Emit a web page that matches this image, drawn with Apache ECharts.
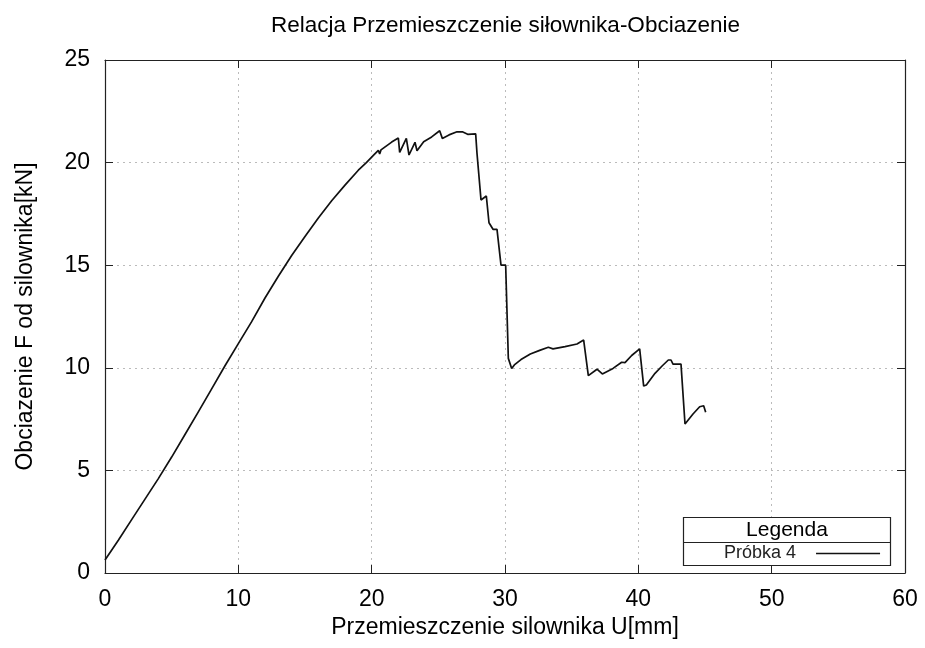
<!DOCTYPE html>
<html>
<head>
<meta charset="utf-8">
<script src="https://cdn.jsdelivr.net/npm/echarts@6/dist/echarts.min.js"></script>
<style>
  html, body { margin: 0; padding: 0; background: #fff; }
  #chart { width: 925px; height: 648px; }
</style>
</head>
<body>
<div id="chart"></div>
<script>
// przemieszczenie U [mm]
var dispU = [0, 1, 2, 3, 4, 5, 6, 7, 8, 9, 10, 11, 12, 13, 14, 15, 16, 17, 18, 19,
  19.6, 20.2, 20.5, 20.6, 20.7, 21.5, 22.0, 22.1, 22.6, 22.8, 23.25, 23.4, 23.9, 24.5,
  25.1, 25.3, 25.8, 26.4, 26.8, 27.2, 27.8, 27.9, 28.2, 28.6, 28.8, 29.1, 29.4, 29.7,
  29.85, 30.05, 30.25, 30.5, 30.7, 31.2, 31.9, 32.6, 33.25, 33.6, 34.5, 35.4, 35.9,
  36.25, 36.9, 37.3, 38.1, 38.75, 39.0, 39.5, 40.1, 40.2, 40.4, 40.6, 41.25, 41.8,
  42.25, 42.45, 42.6, 43.2, 43.5, 44.1, 44.6, 44.9, 45.05];
// obciazenie F [kN]
var loadF = [0.63, 1.6, 2.6, 3.6, 4.6, 5.65, 6.75, 7.85, 8.97, 10.1, 11.18, 12.25, 13.4, 14.46, 15.47, 16.4, 17.3, 18.14, 18.9, 19.63,
  20.0, 20.4, 20.6, 20.42, 20.62, 21.0, 21.2, 20.5, 21.18, 20.37, 20.99, 20.58, 21.02, 21.25,
  21.55, 21.18, 21.35, 21.5, 21.5, 21.38, 21.4, 20.45, 18.18, 18.37, 17.07, 16.75, 16.75, 15.0,
  14.95, 15.0, 10.46, 9.97, 10.14, 10.4, 10.67, 10.85, 11.0, 10.92, 11.03, 11.16, 11.35,
  9.62, 9.93, 9.7, 9.97, 10.27, 10.25, 10.6, 10.92, 10.9, 9.11, 9.16, 9.73, 10.1,
  10.38, 10.38, 10.18, 10.18, 7.26, 7.75, 8.1, 8.15, 7.83];

var seriesName = 'Próbka 4';
var font = 'Liberation Sans, Arial, Helvetica, sans-serif';

var points = [];
for (let i = 0; i < dispU.length; i++) {
  points.push([dispU[i], loadF[i]]);
}

// onZero off, otherwise the mirror axes sit on the 0 line
function frameLine() {
  return { show: true, onZero: false, lineStyle: { color: '#222', width: 1.2 } };
}
// ticks pointing into the plot, like gnuplot
function innerTick() {
  return { show: true, inside: true, length: 8, lineStyle: { color: '#222', width: 1 } };
}
function dotGrid() {
  return { show: true, lineStyle: { color: '#bbb', type: [2, 4], width: 1 } };
}

var chart = echarts.init(document.getElementById('chart'), null, { renderer: 'canvas' });

chart.setOption({
  backgroundColor: '#fff',
  animation: false,
  title: {
    text: 'Relacja Przemieszczenie siłownika-Obciazenie',
    left: 266,
    top: 9,
    textStyle: { fontFamily: font, fontWeight: 'normal', fontSize: 22.5, color: '#000' }
  },
  grid: { left: 105, right: 20, top: 60, bottom: 75 },
  xAxis: [{
    type: 'value',
    min: 0, max: 60, interval: 10,
    name: 'Przemieszczenie silownika U[mm]',
    nameLocation: 'middle',
    nameGap: 35,
    nameTextStyle: { fontFamily: font, fontSize: 23, color: '#000' },
    axisLine: frameLine(),
    axisTick: innerTick(),
    splitLine: dotGrid(),
    axisLabel: { fontFamily: font, fontSize: 23, color: '#000', margin: 15 }
  }, {
    type: 'value', position: 'top',
    min: 0, max: 60, interval: 10,
    axisLine: frameLine(), axisTick: innerTick(),
    splitLine: { show: false }, axisLabel: { show: false }
  }],
  yAxis: [{
    type: 'value',
    min: 0, max: 25, interval: 5,
    name: 'Obciazenie F od silownika[kN]',
    nameLocation: 'middle',
    nameGap: 68,
    nameTextStyle: { fontFamily: font, fontSize: 23, color: '#000' },
    axisLine: frameLine(),
    axisTick: innerTick(),
    splitLine: dotGrid(),
    axisLabel: { fontFamily: font, fontSize: 23, color: '#000', margin: 15 }
  }, {
    type: 'value', position: 'right',
    min: 0, max: 25, interval: 5,
    axisLine: frameLine(), axisTick: innerTick(),
    splitLine: { show: false }, axisLabel: { show: false }
  }],
  legend: {
    data: [seriesName],
    left: 724,
    top: 543,
    z: 12,
    align: 'right',
    icon: 'rect',
    itemWidth: 64,
    itemHeight: 1.5,
    itemGap: 0,
    padding: 0,
    textStyle: { fontFamily: font, fontSize: 18, color: '#222', lineHeight: 21, padding: [0, 15, 0, 0] }
  },
  graphic: [
    { type: 'rect', shape: { x: 683.5, y: 517.5, width: 207, height: 48 }, style: { fill: '#fff', stroke: '#222', lineWidth: 1.2 }, z: 10 },
    { type: 'line', shape: { x1: 683.5, y1: 542.5, x2: 890.5, y2: 542.5 }, style: { stroke: '#222', lineWidth: 1.2 }, z: 11 },
    { type: 'text', x: 787, y: 530, style: { text: 'Legenda', fontFamily: font, fontSize: 21, fill: '#000', align: 'center', verticalAlign: 'middle' }, z: 11 }
  ],
  series: [{
    name: seriesName,
    type: 'line',
    data: points,
    showSymbol: false,
    symbol: 'none',
    lineStyle: { color: '#111', width: 1.7 },
    itemStyle: { color: '#111' },
    z: 3
  }]
});
</script>
</body>
</html>
